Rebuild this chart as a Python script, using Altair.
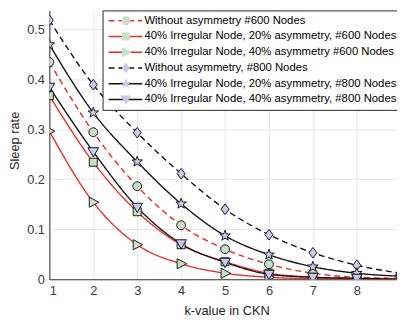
import math
import altair as alt
import pandas as pd

# ---------------- data ----------------
k_values = [1, 2, 3, 4, 5, 6, 7, 8, 9]
series_names = [
    "Without asymmetry #600 Nodes",
    "40% Irregular Node, 20% asymmetry, #600 Nodes",
    "40% Irregular Node, 40% asymmetry #600 Nodes",
    "Without asymmetry, #800 Nodes",
    "40% Irregular Node, 20% asymmetry, #800 Nodes",
    "40% Irregular Node, 40% asymmetry, #800 Nodes",
]
series_groups = ["600", "600", "600", "800", "800", "800"]
s600_none = [0.434, 0.294, 0.186, 0.108, 0.060, 0.030, 0.012, 0.004, 0.002]
s600_20 = [0.367, 0.234, 0.135, 0.069, 0.035, 0.012, 0.004, 0.001, 0.000]
s600_40 = [0.296, 0.154, 0.069, 0.031, 0.012, 0.004, 0.001, 0.000, 0.000]
s800_none = [0.518, 0.389, 0.293, 0.211, 0.140, 0.089, 0.053, 0.028, 0.012]
s800_20 = [0.469, 0.333, 0.235, 0.151, 0.087, 0.049, 0.025, 0.012, 0.006]
s800_40 = [0.384, 0.255, 0.144, 0.071, 0.034, 0.010, 0.004, 0.002, 0.000]
all_series = [s600_none, s600_20, s600_40, s800_none, s800_20, s800_40]

y_ticks = [0, 0.1, 0.2, 0.3, 0.4, 0.5]
x_ticks = [1, 2, 3, 4, 5, 6, 7, 8]

rows = []
for name, grp, vals in zip(series_names, series_groups, all_series):
    for k, v in zip(k_values, vals):
        rows.append({"series": name, "series_m": name, "group": grp,
                     "k": k, "value": v})
df = pd.DataFrame(rows)

# ---------------- styles ----------------
FONT = "Liberation Sans"
RED = "#ee2a24"
BLACK = "#111111"
GREEN = "#c6e0c6"
LAV = "#c8c8f0"
EDGE = "#1a1a1a"

line_colors = [RED, RED, RED, BLACK, BLACK, BLACK]
dashes = [[6, 4], [1, 0], [1, 0], [6, 4], [1, 0], [1, 0]]

star_pts = []
for i in range(10):
    ang = -math.pi / 2 + i * math.pi / 5
    r = 1.25 if i % 2 == 0 else 0.52
    star_pts.append(f"{r * math.cos(ang):.3f},{r * math.sin(ang):.3f}")
STAR = "M" + "L".join(star_pts) + "Z"
SQUARE = "M-0.9,-0.9H0.9V0.9H-0.9Z"
TRI_RIGHT = "M-0.9,-1.15L1.25,0L-0.9,1.15Z"
DIAMOND = "M0,-1.2L0.9,0L0,1.2L-0.9,0Z"
TRI_DOWN = "M-1.2,-0.9L1.2,-0.9L0,1.2Z"
shapes600 = ["circle", SQUARE, TRI_RIGHT]
shapes800 = [DIAMOND, STAR, TRI_DOWN]
LINE_SYM = "M-3.8,0H3.8"

PLOT_W = 353
PLOT_H = 273
X_MAX = 1 + PLOT_W / 44.6
Y_MAX = PLOT_H / 508.0

ROW_H = 13
ROW_PAD = 3

legend_common = dict(
    title=None,
    orient="none",
    legendX=54,
    symbolSize=81,
    labelFont=FONT,
    labelFontSize=11.5,
    padding=4,
    rowPadding=ROW_PAD,
    clipHeight=ROW_H,
    labelLimit=400,
)

legA = alt.Legend(
    legendY=0,
    symbolType=LINE_SYM,
    symbolStrokeWidth=1.4,
    symbolOffset=13.5,
    labelOffset=13.5,
    labelColor="#000000",
    strokeColor="#262626",
    fillColor="white",
    zindex=1,
    **legend_common,
)


def marker_legend(y, fill):
    return alt.Legend(
        legendY=y,
        symbolStrokeWidth=1,
        symbolStrokeColor=EDGE,
        symbolFillColor=fill,
        symbolOpacity=1,
        symbolOffset=14,
        labelOffset=14,
        labelColor="transparent",
        zindex=2,
        **legend_common,
    )


x_enc = alt.X(
    "k:Q",
    scale=alt.Scale(domain=[1, X_MAX], nice=False, zero=False),
    axis=alt.Axis(
        values=x_ticks,
        format="d",
        title="k-value in CKN",
        titleX=180,
        titleY=32,
        titleBaseline="middle",
    ),
)
y_enc = alt.Y(
    "value:Q",
    scale=alt.Scale(domain=[0, Y_MAX], nice=False),
    axis=alt.Axis(
        values=y_ticks,
        labelExpr="datum.value == 0 ? '0' : format(datum.value, '.1f')",
        title="Sleep rate",
        titleX=-35,
        titleY=132,
        titleBaseline="middle",
    ),
)

base = alt.Chart(df)

lines = base.mark_line(
    clip=True, strokeWidth=1.4, interpolate="monotone"
).encode(
    x=x_enc,
    y=y_enc,
    color=alt.Color("series:N",
                    scale=alt.Scale(domain=series_names, range=line_colors),
                    legend=legA),
    strokeDash=alt.StrokeDash("series:N",
                              scale=alt.Scale(domain=series_names, range=dashes),
                              legend=legA),
)

points600 = base.transform_filter(alt.datum.group == "600").mark_point(
    filled=True, clip=True, size=81, fill=GREEN, stroke=EDGE,
    strokeWidth=1, opacity=1
).encode(
    x="k:Q",
    y="value:Q",
    shape=alt.Shape("series_m:N",
                    scale=alt.Scale(domain=series_names[:3], range=shapes600),
                    legend=marker_legend(0, GREEN)),
)

points800 = base.transform_filter(alt.datum.group == "800").mark_point(
    filled=True, clip=True, size=81, fill=LAV, stroke=EDGE,
    strokeWidth=1, opacity=1
).encode(
    x="k:Q",
    y="value:Q",
    shape=alt.Shape("series_m:N",
                    scale=alt.Scale(domain=series_names[3:], range=shapes800),
                    legend=marker_legend(3 * (ROW_H + ROW_PAD), LAV)),
)

chart = alt.layer(lines, points600, points800).resolve_scale(
    shape="independent"
).resolve_legend(
    shape="independent"
).properties(
    width=PLOT_W,
    height=PLOT_H,
    autosize=alt.AutoSizeParams(type="none"),
    padding={"left": 42, "top": 0, "right": 0, "bottom": 45},
).configure_view(
    strokeWidth=0
).configure_axis(
    labelFont=FONT,
    labelFontSize=13,
    labelColor="#3a3a3a",
    labelPadding=5,
    titleFont=FONT,
    titleFontSize=13,
    titleFontWeight="normal",
    titleColor="#262626",
    domainColor="#333333",
    domainWidth=1,
    ticks=False,
    grid=True,
    gridColor="#e6e6e6",
    gridWidth=1,
)

chart.save("out.html", embed_options={"renderer": "svg", "actions": False})
